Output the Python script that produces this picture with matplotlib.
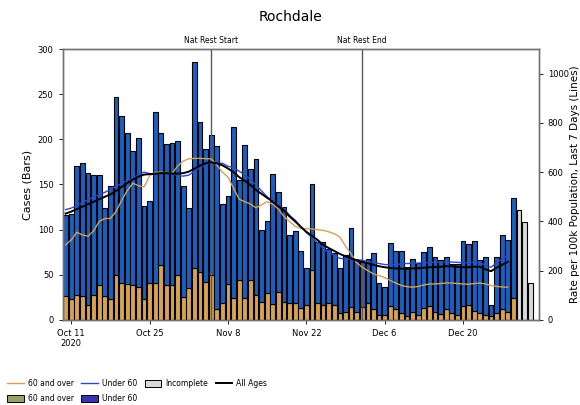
import numpy as np
import matplotlib
matplotlib.use("Agg")
import matplotlib.pyplot as plt
import matplotlib.transforms as mtransforms
from matplotlib.lines import Line2D
from matplotlib.patches import Patch

# daily cases, Oct 10 -> Dec 29 (complete days)
cases_total = [116, 117, 170, 174, 163, 160, 160, 124, 148, 247,
               226, 207, 187, 201, 126, 132, 230, 207, 195, 196,
               198, 148, 124, 286, 219, 189, 205, 193, 128, 137,
               214, 155, 194, 167, 178, 100, 110, 162, 142, 125,
               94, 98, 76, 58, 150, 86, 86, 79, 74, 58,
               72, 102, 66, 64, 68, 74, 41, 37, 85, 76,
               76, 59, 67, 63, 75, 81, 70, 66, 70, 62,
               62, 87, 84, 87, 66, 70, 17, 70, 94, 88,
               135]
cases_60_over = [26, 23, 28, 27, 17, 28, 39, 26, 23, 50,
                 41, 40, 39, 37, 23, 41, 41, 61, 39, 39,
                 50, 25, 35, 58, 53, 42, 50, 12, 19, 40,
                 24, 44, 24, 44, 28, 20, 30, 18, 31, 20,
                 19, 19, 13, 17, 55, 19, 17, 19, 17, 8,
                 9, 14, 9, 14, 19, 12, 6, 6, 15, 12,
                 8, 4, 9, 6, 13, 15, 9, 7, 12, 8,
                 6, 15, 17, 10, 8, 5, 4, 8, 12, 9,
                 24]
# incomplete days Dec 30 -> Jan 1
cases_incomplete = [122, 109, 41]

# 7-day rates per 100k, Oct 10 -> Dec 28
rate_all = [432, 440, 450, 460, 470, 480, 490, 500, 510, 524,
            540, 556, 570, 582, 590, 592, 594, 596, 596, 594,
            594, 596, 602, 614, 626, 636, 640, 636, 628, 615,
            600, 580, 565, 548, 528, 512, 496, 480, 462, 445,
            420, 400, 378, 358, 342, 325, 305, 292, 280, 268,
            258, 250, 242, 236, 230, 224, 218, 214, 211, 209,
            208, 208, 209, 210, 212, 214, 215, 216, 218, 218,
            216, 214, 214, 216, 216, 206, 198, 212, 224, 236]
rate_60_over = [305, 325, 356, 345, 340, 362, 400, 412, 412, 440,
                485, 525, 555, 545, 540, 585, 600, 600, 598, 594,
                625, 645, 654, 656, 656, 655, 654, 630, 600, 580,
                535, 490, 480, 471, 455, 468, 480, 470, 450, 420,
                400, 380, 372, 370, 370, 366, 364, 358, 350, 336,
                300, 268, 232, 214, 200, 187, 180, 172, 160, 150,
                140, 135, 133, 136, 142, 146, 146, 148, 150, 150,
                148, 146, 145, 148, 150, 146, 140, 136, 134, 133]
rate_under_60 = [448, 454, 464, 476, 488, 500, 508, 518, 530, 542,
                 555, 565, 574, 590, 600, 594, 592, 595, 595, 594,
                 586, 584, 588, 604, 618, 631, 636, 638, 636, 624,
                 618, 604, 589, 570, 548, 524, 500, 482, 466, 452,
                 425, 405, 380, 355, 335, 314, 290, 275, 262, 250,
                 248, 246, 245, 242, 238, 234, 229, 225, 224, 225,
                 228, 229, 230, 231, 232, 233, 234, 234, 235, 235,
                 234, 232, 232, 234, 233, 222, 214, 232, 248, 262]

days = np.arange('2020-10-10', '2020-12-30', dtype='datetime64[D]')
days_inc = np.arange('2020-12-30', '2021-01-02', dtype='datetime64[D]')
days_rate = days[:len(rate_all)]

tick_days = np.array(['2020-10-11', '2020-10-25', '2020-11-08', '2020-11-22',
                      '2020-12-06', '2020-12-20'], dtype='datetime64[D]')
tick_labels = ['Oct 11\n2020', 'Oct 25', 'Nov 8', 'Nov 22', 'Dec 6', 'Dec 20']
events = {'Nat Rest Start': np.datetime64('2020-11-05'),
          'Nat Rest End': np.datetime64('2020-12-02')}

c_old_bar = '#d9a251'
c_young_bar = '#1b60c0'
c_old_line = '#d4a059'
c_young_line = '#3346c8'

cases_total = np.array(cases_total)
cases_60_over = np.array(cases_60_over)
cases_under_60 = cases_total - cases_60_over

fig = plt.figure(figsize=(5.8, 4.05), dpi=100)
ax = fig.add_axes([0.108, 0.21, 0.821, 0.669])

ax.bar(days, cases_60_over, width=0.85, color=c_old_bar, edgecolor='black', linewidth=0.8)
ax.bar(days, cases_under_60, width=0.85, bottom=cases_60_over, color=c_young_bar,
       edgecolor='black', linewidth=0.8)
ax.bar(days_inc, cases_incomplete, width=0.85, color='#dadada', edgecolor='black', linewidth=0.8)

ax.set_ylim(0, 300)
ax.set_yticks(range(0, 301, 50))
ax.set_xlim(np.datetime64('2020-10-10') - np.timedelta64(13, 'h'),
            np.datetime64('2021-01-02') + np.timedelta64(13, 'h'))
ax.set_xticks(tick_days)
ax.set_xticklabels(tick_labels)
ax.set_ylabel('Cases (Bars)', fontsize=8)

trans = mtransforms.blended_transform_factory(ax.transData, ax.transAxes)
for name, d in events.items():
    ax.axvline(d, color='0.35', linewidth=1.0, zorder=5)
    ax.text(d, 1.015, name, transform=trans, ha='center', va='bottom', fontsize=5.5)

ax2 = ax.twinx()
ax2.plot(days_rate, rate_60_over, color=c_old_line, linewidth=1.0)
ax2.plot(days_rate, rate_under_60, color=c_young_line, linewidth=1.0)
ax2.plot(days_rate, rate_all, color='black', linewidth=1.4)
ax2.set_ylim(0, 1100)
ax2.set_yticks(range(0, 1001, 200))
ax2.set_ylabel('Rate per 100k Population, Last 7 Days (Lines)', fontsize=7.5, labelpad=1)

for a in (ax, ax2):
    a.tick_params(labelsize=6, length=3, width=0.6)
    for s in a.spines.values():
        s.set_color('0.45')
        s.set_linewidth(1.0)

fig.suptitle('Rochdale', fontsize=10, y=0.975)

handles = [Line2D([], [], color=c_old_line, linewidth=1.0),
           Patch(facecolor='#9fa060', edgecolor='black', linewidth=0.7),
           Line2D([], [], color=c_young_line, linewidth=1.0),
           Patch(facecolor='#3a34b0', edgecolor='black', linewidth=0.7),
           Patch(facecolor='#dadada', edgecolor='black', linewidth=0.7),
           Line2D([], [], color='black', linewidth=1.4)]
labels = ['60 and over', '60 and over', 'Under 60', 'Under 60', 'Incomplete', 'All Ages']
fig.legend(handles, labels, loc='lower left', bbox_to_anchor=(0.0, -0.012), ncol=4,
           frameon=False, fontsize=5.5, handlelength=2.2, handleheight=0.9,
           columnspacing=1.0, handletextpad=0.5, labelspacing=0.75)

fig.savefig('out.png', dpi=100)
